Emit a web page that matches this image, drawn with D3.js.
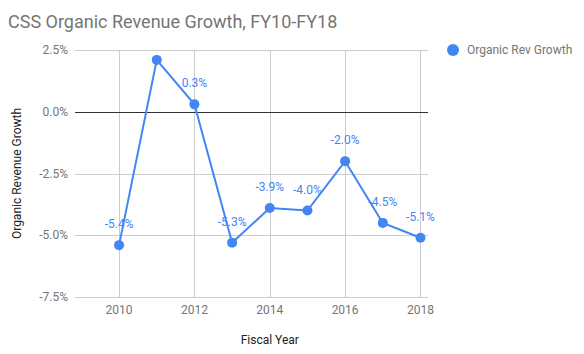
<!DOCTYPE html>
<html>
<head>
<meta charset="utf-8">
<script src="https://cdn.jsdelivr.net/npm/d3@7"></script>
<style>
  body { margin: 0; background: #fff; }
  text { font-family: Roboto, Arial, sans-serif; }
</style>
</head>
<body>
<div id="chart"></div>
<script>
var w = 584, h = 354;

// data
var years = [2010, 2011, 2012, 2013, 2014, 2015, 2016, 2017, 2018];
var growth = [-5.4, 2.1, 0.3, -5.3, -3.9, -4.0, -2.0, -4.5, -5.1];
var showLabel = [true, false, true, true, true, true, true, true, true];
var yTicks = [2.5, 0, -2.5, -5, -7.5];
var xTicks = [2010, 2012, 2014, 2016, 2018];
var seriesName = "Organic Rev Growth";

// plot box (note: "top" is taken by window.top, so padTop etc.)
var padLeft = 75, padRight = 428, padTop = 50, padBottom = 297;
var blue = "#4285f4", grey = "#757575";

// plain hyphen instead of d3's unicode minus
var pct = function(d) { return d3.format(".1f")(d).replace("\u2212", "-") + "%"; };

var svg = d3.select("#chart").append("svg")
    .attr("width", w)
    .attr("height", h);

var x = d3.scaleLinear().domain([2008.83, 2018.2]).range([padLeft, padRight]);
var y = d3.scaleLinear().domain([-7.5, 2.5]).range([padBottom, padTop]);

// title
svg.append("text")
    .attr("x", 8).attr("y", 28)
    .attr("font-size", 18).attr("fill", grey)
    .text("CSS Organic Revenue Growth, FY10-FY18");

// gridlines
svg.selectAll(".hgrid").data(yTicks).enter().append("line")
    .attr("x1", padLeft).attr("x2", padRight)
    .attr("y1", function(d) { return Math.round(y(d)) + 0.5; })
    .attr("y2", function(d) { return Math.round(y(d)) + 0.5; })
    .attr("stroke", "#ccc");

svg.selectAll(".vgrid").data(xTicks).enter().append("line")
    .attr("x1", function(d) { return Math.round(x(d)) + 0.5; })
    .attr("x2", function(d) { return Math.round(x(d)) + 0.5; })
    .attr("y1", padTop).attr("y2", padBottom)
    .attr("stroke", "#ccc");

// zero line
svg.append("line")
    .attr("x1", padLeft).attr("x2", padRight)
    .attr("y1", Math.round(y(0)) + 0.5).attr("y2", Math.round(y(0)) + 0.5)
    .attr("stroke", "#333");

svg.selectAll(".ylab").data(yTicks).enter().append("text")
    .attr("x", 68)
    .attr("y", function(d) { return y(d) + 4; })
    .attr("text-anchor", "end")
    .attr("font-size", 12).attr("fill", grey)
    .text(pct);

svg.selectAll(".xlab").data(xTicks).enter().append("text")
    .attr("x", function(d) { return x(d); })
    .attr("y", 314)
    .attr("text-anchor", "middle")
    .attr("font-size", 12).attr("fill", grey)
    .text(function(d) { return d; });

// axis titles
svg.append("text")
    .attr("x", x(2014)).attr("y", 344)
    .attr("text-anchor", "middle")
    .attr("font-size", 12).attr("fill", "#222")
    .text("Fiscal Year");

svg.append("text")
    .attr("transform", "translate(21," + y(-2.5) + ") rotate(-90)")
    .attr("text-anchor", "middle")
    .attr("font-size", 12).attr("fill", "#222")
    .text("Organic Revenue Growth");

// series
var pts = years.map(function(d, i) { return {x: d, y: growth[i], label: showLabel[i]}; });

var line = d3.line()
    .x(function(d) { return x(d.x); })
    .y(function(d) { return y(d.y); });

svg.append("path")
    .datum(pts)
    .attr("d", line)
    .attr("fill", "none")
    .attr("stroke", blue)
    .attr("stroke-width", 2);

svg.selectAll(".dot").data(pts).enter().append("circle")
    .attr("cx", function(d) { return x(d.x); })
    .attr("cy", function(d) { return y(d.y); })
    .attr("r", 5)
    .attr("fill", blue);

svg.selectAll(".vlab").data(pts.filter(function(d) { return d.label; })).enter().append("text")
    .attr("x", function(d) { return x(d.x); })
    .attr("y", function(d) { return y(d.y) - 17; })
    .attr("text-anchor", "middle")
    .attr("font-size", 12).attr("fill", blue)
    .text(function(d) { return pct(d.y); });

// legend
svg.append("circle")
    .attr("cx", 453).attr("cy", 50).attr("r", 6)
    .attr("fill", blue);
svg.append("text")
    .attr("x", 467).attr("y", 54)
    .attr("font-size", 12).attr("fill", grey)
    .text(seriesName);
</script>
</body>
</html>
